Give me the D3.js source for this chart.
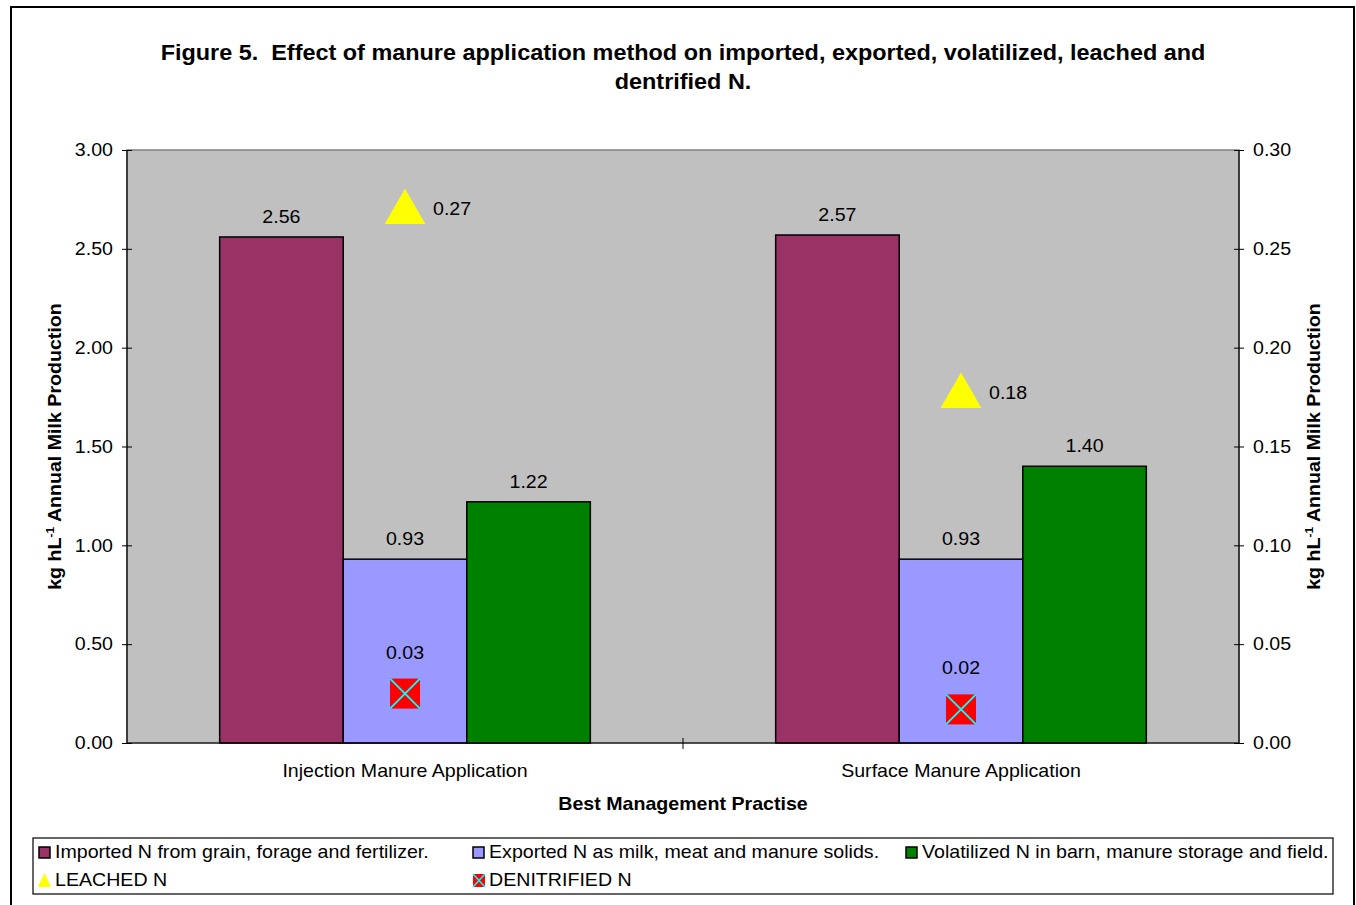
<!DOCTYPE html>
<html>
<head>
<meta charset="utf-8">
<script src="https://cdn.jsdelivr.net/npm/d3@7"></script>
<style>
  body { margin: 0; background: #fff; }
  text { font-family: "Liberation Sans", Arial, sans-serif; fill: #000; }
</style>
</head>
<body>
<svg width="1356" height="905"></svg>
<script>
// chart values
const categories = ["Injection Manure Application", "Surface Manure Application"];
const seriesNames = [
  "Imported N from grain, forage and fertilizer.",
  "Exported N as milk, meat and manure solids.",
  "Volatilized N in barn, manure storage and field."
];
const imported = [2.56, 2.57];
const exported = [0.93, 0.93];
const volatilized = [1.22, 1.40];
const leached = [0.27, 0.177];
const denitrified = [0.025, 0.017];
const leftTicks = [0, 0.5, 1, 1.5, 2, 2.5, 3];
const rightTicks = [0, 0.05, 0.1, 0.15, 0.2, 0.25, 0.3];
const colors = ["#993366", "#9999FF", "#008000"];

const svg = d3.select("svg");
const fmt = d3.format(".2f");
const fs = 18;
const sx = 1.09; // the original text renders a bit wide

// outer chart border
svg.append("rect")
  .attr("x", 11).attr("y", 7).attr("width", 1343).attr("height", 910)
  .attr("fill", "none").attr("stroke", "#000").attr("stroke-width", 2);

// title
const titleLines = [
  "Figure 5.  Effect of manure application method on imported, exported, volatilized, leached and",
  "dentrified N."
];
titleLines.forEach((line, i) => {
  svg.append("text").attr("class", "st")
    .attr("x", 683).attr("y", 60 + i * 29)
    .attr("text-anchor", "middle").attr("xml:space", "preserve")
    .style("white-space", "pre")
    .style("font-weight", "bold").style("font-size", "21.5px")
    .text(line);
});

const plot = { left: 127, right: 1239, top: 150, bottom: 743 };

const x0 = d3.scaleBand().domain(categories).range([plot.left, plot.right]);
const x1 = d3.scaleBand().domain(d3.range(3)).range([0, x0.bandwidth()])
  .paddingInner(0).paddingOuter(0.75);
const y = d3.scaleLinear().domain([0, 3]).range([plot.bottom, plot.top]);
const y2 = d3.scaleLinear().domain([0, 0.3]).range([plot.bottom, plot.top]);

// plot area
svg.append("rect")
  .attr("x", plot.left).attr("y", plot.top)
  .attr("width", plot.right - plot.left).attr("height", plot.bottom - plot.top)
  .attr("fill", "#C0C0C0").attr("stroke", "#808080").attr("stroke-width", 1.5);

// bars
const barData = [imported, exported, volatilized];
const groups = svg.append("g").selectAll("g")
  .data(categories).join("g")
  .attr("transform", d => `translate(${x0(d)},0)`);

groups.each(function (cat, ci) {
  const g = d3.select(this);
  barData.forEach((vals, si) => {
    const v = vals[ci];
    g.append("rect")
      .attr("x", x1(si)).attr("y", y(v))
      .attr("width", x1.bandwidth()).attr("height", y(0) - y(v))
      .attr("fill", colors[si]).attr("stroke", "#000").attr("stroke-width", 1.5);
    g.append("text").attr("class", "st")
      .attr("x", x1(si) + x1.bandwidth() / 2).attr("y", y(v) - 14)
      .attr("text-anchor", "middle").style("font-size", fs + "px")
      .text(fmt(v));
  });
});

// leached markers (secondary axis)
const tri = d3.symbol().type(d3.symbolTriangle).size(720);
categories.forEach((cat, i) => {
  const cx = x0(cat) + x0.bandwidth() / 2;
  const cy = y2(leached[i]);
  svg.append("path").attr("d", tri())
    .attr("transform", `translate(${cx},${cy + 3})`)
    .attr("fill", "#FFFF00");
  svg.append("text").attr("class", "st").attr("x", cx + 28).attr("y", cy + 6)
    .style("font-size", fs + "px").text(fmt(leached[i]));

  // denitrified markers
  const dy = y2(denitrified[i]);
  const s = 15;
  const m = svg.append("g").attr("transform", `translate(${cx},${dy})`);
  m.append("rect").attr("x", -s).attr("y", -s).attr("width", 2 * s).attr("height", 2 * s)
    .attr("fill", "#FF0000");
  m.append("path").attr("d", `M${-s},${-s}L${s},${s}M${-s},${s}L${s},${-s}`)
    .attr("stroke", "#00FFFF").attr("stroke-width", 2);
  svg.append("text").attr("class", "st").attr("x", cx).attr("y", dy - 35)
    .attr("text-anchor", "middle").style("font-size", fs + "px").text(fmt(denitrified[i]));
});

// axes
const yAxis = svg.append("g").attr("transform", `translate(${plot.left},0)`)
  .call(d3.axisLeft(y).tickValues(leftTicks).tickFormat(fmt).tickSize(5).tickPadding(9));
yAxis.selectAll(".tick line").attr("x1", 5);

const y2Axis = svg.append("g").attr("transform", `translate(${plot.right},0)`)
  .call(d3.axisRight(y2).tickValues(rightTicks).tickFormat(fmt).tickSize(5).tickPadding(9));
y2Axis.selectAll(".tick line").attr("x1", -5);

const xAxis = svg.append("g").attr("transform", `translate(0,${plot.bottom})`)
  .call(d3.axisBottom(x0).tickSize(0).tickPadding(21));
xAxis.selectAll(".tick line").remove();
// category divider ticks
xAxis.selectAll(".divider")
  .data(categories.slice(1)).join("line")
  .attr("x1", d => x0(d)).attr("x2", d => x0(d))
  .attr("y1", -5).attr("y2", 6).attr("stroke", "#000");

[yAxis, y2Axis, xAxis].forEach(a => {
  a.selectAll("path.domain").attr("stroke", "#000").attr("stroke-width", 1.2);
  a.selectAll(".tick line").attr("stroke", "#000");
  a.selectAll("text").attr("class", "st").style("font-size", fs + "px")
    .style("font-family", "'Liberation Sans', Arial, sans-serif");
});
yAxis.select("path.domain").attr("d", `M0,${plot.bottom}V${plot.top}`);
y2Axis.select("path.domain").attr("d", `M0,${plot.bottom}V${plot.top}`);
xAxis.select("path.domain").attr("d", `M${plot.left},0H${plot.right}`);

// axis titles
svg.append("text").attr("class", "st").attr("x", 683).attr("y", 810)
  .attr("text-anchor", "middle").style("font-weight", "bold").style("font-size", fs + "px")
  .text("Best Management Practise");

function yTitle(xPos) {
  const t = svg.append("text").attr("class", "st")
    .attr("transform", `translate(${xPos},${(plot.top + plot.bottom) / 2}) rotate(-90)`)
    .attr("text-anchor", "middle").style("font-weight", "bold").style("font-size", fs + "px");
  t.append("tspan").text("kg hL");
  t.append("tspan").attr("dy", -7).style("font-size", "11px").text("-1");
  t.append("tspan").attr("dy", 7).text(" Annual Milk Production");
}
yTitle(61);
yTitle(1320);

// legend
svg.append("rect").attr("x", 33).attr("y", 838).attr("width", 1300).attr("height", 56)
  .attr("fill", "#fff").attr("stroke", "#000").attr("stroke-width", 1.2);

const legendItems = [
  { name: seriesNames[0], type: "rect", color: colors[0], x: 38, y: 852 },
  { name: seriesNames[1], type: "rect", color: colors[1], x: 472, y: 852 },
  { name: seriesNames[2], type: "rect", color: colors[2], x: 905, y: 852 },
  { name: "LEACHED N", type: "tri", x: 38, y: 880 },
  { name: "DENITRIFIED N", type: "x", x: 472, y: 880 }
];
const lg = svg.append("g").selectAll("g").data(legendItems).join("g")
  .attr("transform", d => `translate(${d.x},${d.y})`);
lg.each(function (d) {
  const g = d3.select(this);
  if (d.type === "rect") {
    g.append("rect").attr("x", 1).attr("y", -5).attr("width", 11).attr("height", 11)
      .attr("fill", d.color).attr("stroke", "#000").attr("stroke-width", 1.5);
  } else if (d.type === "tri") {
    g.append("path").attr("d", "M6.5,-7L13,7L0,7Z").attr("fill", "#FFFF00");
  } else {
    g.append("rect").attr("x", 1).attr("y", -6).attr("width", 12).attr("height", 13).attr("fill", "#FF0000");
    g.append("path").attr("d", "M1,-6L13,7M1,7L13,-6").attr("stroke", "#00FFFF").attr("stroke-width", 1.5);
  }
  g.append("text").attr("class", "st").attr("x", 17).attr("y", 6)
    .style("font-size", fs + "px").text(d.name);
});

// widen all text horizontally (along its own direction)
svg.selectAll("text.st").each(function () {
  const t = d3.select(this);
  const tx = +t.attr("x") || 0, ty = +t.attr("y") || 0;
  const tr = t.attr("transform") || "";
  t.attr("x", 0).attr("y", 0)
    .attr("transform", `${tr} translate(${tx},${ty}) scale(${sx},1)`);
});
</script>
</body>
</html>
